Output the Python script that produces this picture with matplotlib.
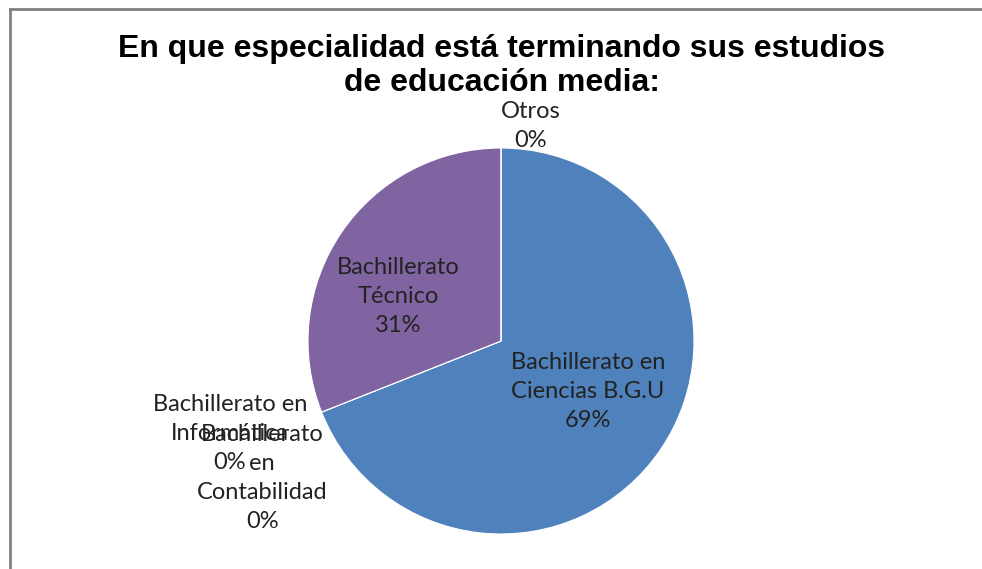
import matplotlib
matplotlib.use("Agg")
import matplotlib.pyplot as plt
from matplotlib.lines import Line2D

categories = ["Bachillerato en\nCiencias B.G.U", "Bachillerato en\nInformática",
              "Bachillerato\nen\nContabilidad", "Bachillerato\nTécnico", "Otros"]
values = [69, 0, 0, 31, 0]
colors = ["#4F81BD", "#C0504D", "#9BBB59", "#8064A2", "#4BACC6"]
title = "En que especialidad está terminando sus estudios\nde educación media:"

# label positions in axis units (radius = 1)
label_pos = [(0.451, -0.264), (-1.404, -0.477), (-1.238, -0.710), (-0.534, 0.233), (0.155, 1.114)]

W, H = 982, 569
fig = plt.figure(figsize=(W / 100, H / 100), dpi=100)
fig.patch.set_facecolor("white")

cx, cy, r = 501, 341, 193
ax = fig.add_axes([(cx - r) / W, (H - cy - r) / H, 2 * r / W, 2 * r / H])
ax.pie(values, colors=colors, startangle=90, counterclock=False, radius=1,
       wedgeprops=dict(edgecolor="white", linewidth=0.8))
ax.set_xlim(-1, 1)
ax.set_ylim(-1, 1)
ax.set_aspect("equal")

total = sum(values)
for cat, v, (x, y) in zip(categories, values, label_pos):
    pct = round(100 * v / total)
    ax.text(x, y, f"{cat}\n{pct}%", ha="center", va="center", fontsize=17,
            family="Lato", color="#222222", linespacing=1.47, clip_on=False)

fig.text(502 / W, 1 - 66 / H, title, ha="center", va="center", fontsize=23,
         fontweight="bold", family="Liberation Sans", linespacing=1.18)

# chart frame
fig.add_artist(Line2D([10 / W, 1.0], [1 - 9 / H, 1 - 9 / H], color="#808080", lw=2,
                      transform=fig.transFigure))
fig.add_artist(Line2D([10 / W, 10 / W], [0, 1 - 9 / H], color="#808080", lw=2,
                      transform=fig.transFigure))

fig.savefig("out.png", dpi=100)
